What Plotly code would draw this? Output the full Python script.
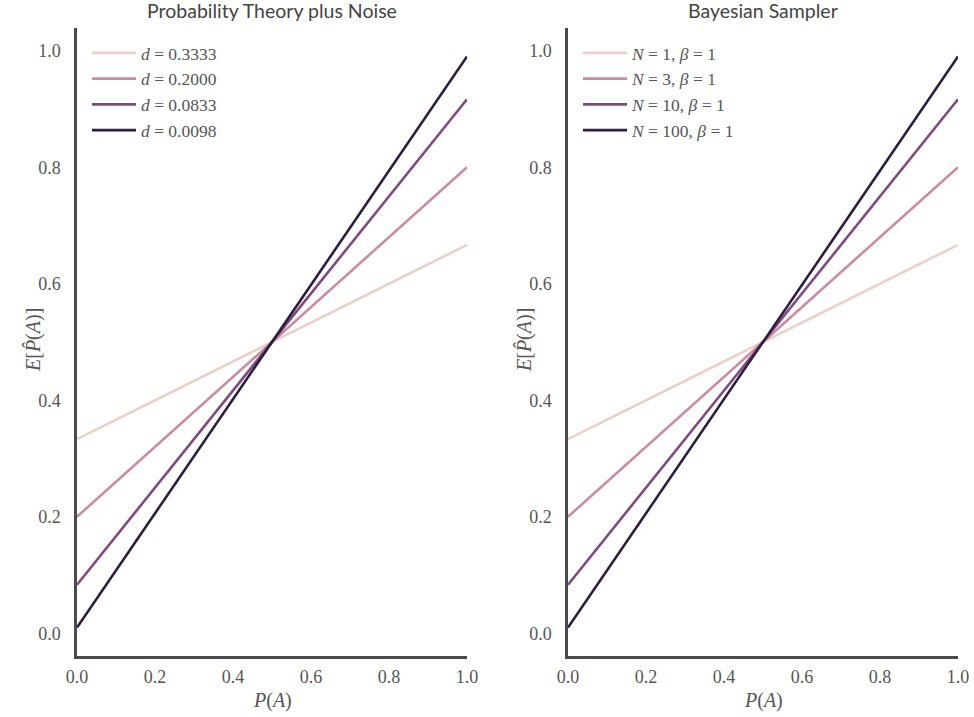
import plotly.graph_objects as go

# data
p_axis = [0.0, 1.0]
start_vals = [0.3333, 0.2000, 0.0833, 0.0098]
end_vals = [0.6667, 0.8000, 0.9167, 0.9902]
left_labels = ["<i>d</i> = 0.3333", "<i>d</i> = 0.2000", "<i>d</i> = 0.0833", "<i>d</i> = 0.0098"]
right_labels = ["<i>N</i> = 1, <i>β</i> = 1", "<i>N</i> = 3, <i>β</i> = 1",
                "<i>N</i> = 10, <i>β</i> = 1", "<i>N</i> = 100, <i>β</i> = 1"]
tick_vals = [0.0, 0.2, 0.4, 0.6, 0.8, 1.0]
tick_text = ["0.0", "0.2", "0.4", "0.6", "0.8", "1.0"]
titles = ["Probability Theory plus Noise", "Bayesian Sampler"]
x_title = "<i>P</i>(<i>A</i>)"
y_title = "<i>E</i>[<i>P̂</i>(<i>A</i>)]"

colors = ["#ebcfc9", "#c98ca2", "#7e4a7f", "#2c1e3d"]

W, H = 974, 717
fig = go.Figure()

for i in range(4):
    fig.add_trace(go.Scatter(x=p_axis, y=[start_vals[i], end_vals[i]], mode="lines",
                             line=dict(color=colors[i], width=2.6), name=left_labels[i],
                             xaxis="x", yaxis="y", legend="legend"))
for i in range(4):
    fig.add_trace(go.Scatter(x=p_axis, y=[start_vals[i], end_vals[i]], mode="lines",
                             line=dict(color=colors[i], width=2.6), name=right_labels[i],
                             xaxis="x2", yaxis="y2", legend="legend2"))

axcol = "#4a4a4a"
SERIF = "Liberation Serif"
tickfont = dict(family=SERIF, size=18, color="#555555")
titlefont = dict(family=SERIF, size=20, color="#555555")

ydom = [1 - 656 / H, 1 - 28 / H]
xd1 = [77 / W, 467 / W]
xd2 = [568 / W, 958 / W]

def xaxis(dom, anchor):
    return dict(domain=dom, anchor=anchor, range=[0, 1], showgrid=False, zeroline=False,
                automargin=False,
                showline=True, linecolor=axcol, linewidth=2.5, ticks="", tickvals=tick_vals,
                ticktext=tick_text, tickfont=tickfont, ticklabelstandoff=3)

def yaxis(anchor):
    return dict(domain=ydom, anchor=anchor, range=[-0.039, 1.039], showgrid=False, zeroline=False,
                automargin=False,
                showline=True, linecolor=axcol, linewidth=2.5, ticks="", tickvals=tick_vals,
                ticktext=tick_text, tickfont=tickfont, ticklabelstandoff=10)

legfont = dict(family=SERIF, size=17.5, color="#555555")

annots = []
for k, dom in enumerate([xd1, xd2]):
    cx = (dom[0] + dom[1]) / 2
    annots.append(dict(text=titles[k], x=cx, y=1 - 11 / H, xref="paper", yref="paper",
                       showarrow=False, xanchor="center", yanchor="middle",
                       font=dict(family="Lato", size=19.5, color="#444444")))
    annots.append(dict(text=x_title, x=cx, y=1 - 700 / H, xref="paper", yref="paper",
                       showarrow=False, xanchor="center", yanchor="middle", font=titlefont))
    annots.append(dict(text=y_title, x=dom[0] - 44 / W, y=1 - 340 / H, xref="paper", yref="paper",
                       showarrow=False, xanchor="center", yanchor="middle", textangle=-90,
                       font=titlefont))

fig.update_layout(
    width=W, height=H, margin=dict(l=0, r=0, t=0, b=0),
    font=dict(family=SERIF, color="#555555"),
    plot_bgcolor="white", paper_bgcolor="white",
    xaxis=xaxis(xd1, "y"), yaxis=yaxis("x"),
    xaxis2=xaxis(xd2, "y2"), yaxis2=yaxis("x2"),
    legend=dict(x=xd1[0] + 10 / W, y=1 - 35 / H, xanchor="left", yanchor="top",
                font=legfont, bgcolor="rgba(0,0,0,0)", itemwidth=44, tracegroupgap=0),
    legend2=dict(x=xd2[0] + 10 / W, y=1 - 35 / H, xanchor="left", yanchor="top",
                 font=legfont, bgcolor="rgba(0,0,0,0)", itemwidth=44, tracegroupgap=0),
    annotations=annots,
)

fig.write_html("out.html", config={"displayModeBar": False},
               post_script="document.body.style.margin='0';document.body.style.padding='0';")
